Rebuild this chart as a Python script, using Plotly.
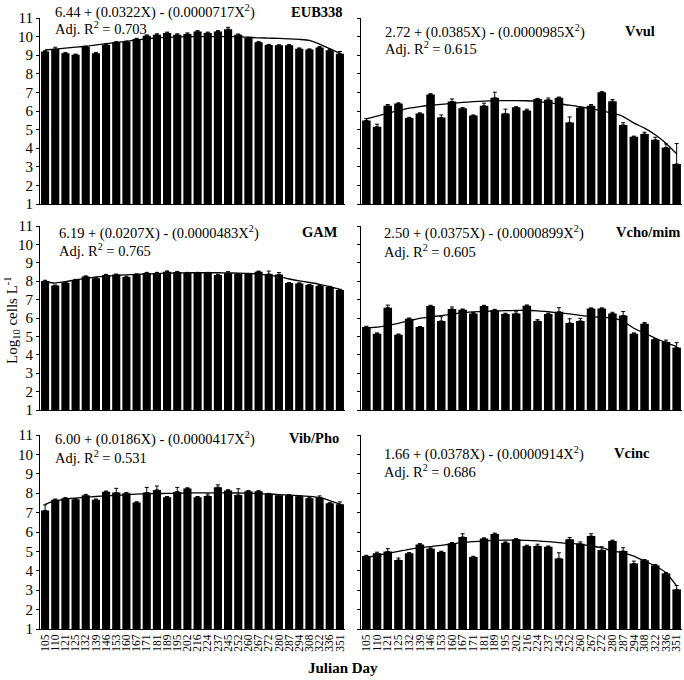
import plotly.graph_objects as go

days = ["105", "110", "121", "125", "132", "139", "146", "153", "160", "167",
        "171", "181", "189", "195", "202", "216", "224", "237", "245", "252",
        "260", "267", "272", "280", "287", "294", "308", "322", "336", "351"]

eub_vals = [9.2, 9.33, 9.1, 9.03, 9.44, 9.1, 9.56, 9.69, 9.72, 9.87, 10.05, 10.1, 10.2, 10.1, 10.14,
            10.28, 10.2, 10.28, 10.4, 10.1, 9.92, 9.69, 9.55, 9.53, 9.53, 9.35, 9.3, 9.42, 9.26, 9.08]
eub_err = [0.04, 0.1, 0.04, 0.03, 0.04, 0.04, 0.04, 0.04, 0.04, 0.04, 0.04, 0.05, 0.04, 0.05, 0.06,
           0.04, 0.04, 0.04, 0.1, 0.04, 0.04, 0.04, 0.03, 0.03, 0.04, 0.04, 0.04, 0.04, 0.05, 0.12]
eub_fit = [9.28, 9.33, 9.38, 9.43, 9.48, 9.55, 9.62, 9.68, 9.74, 9.82, 9.88, 9.93, 9.96, 9.98, 10.0,
           10.0, 10.0, 10.0, 10.0, 9.99, 9.97, 9.93, 9.92, 9.9, 9.88, 9.85, 9.8, 9.6, 9.35, 9.1]

vvul_vals = [5.49, 5.15, 6.28, 6.4, 5.63, 5.87, 6.89, 5.65, 6.51, 6.15, 5.76, 6.28, 6.71, 5.87, 6.2,
             6.03, 6.64, 6.6, 6.71, 5.38, 6.17, 6.28, 7.01, 6.53, 5.25, 4.61, 4.77, 4.45, 4.03, 3.15]
vvul_err = [0.1, 0.14, 0.07, 0.04, 0.03, 0.03, 0.04, 0.14, 0.14, 0.03, 0.03, 0.14, 0.3, 0.23, 0.03,
            0.07, 0.04, 0.1, 0.04, 0.3, 0.05, 0.07, 0.03, 0.09, 0.12, 0.04, 0.09, 0.14, 0.2, 1.1]
vvul_fit = [5.58, 5.72, 5.88, 6.02, 6.15, 6.24, 6.31, 6.36, 6.41, 6.46, 6.5, 6.53, 6.55, 6.56, 6.56,
            6.55, 6.51, 6.45, 6.38, 6.31, 6.22, 6.13, 6.0, 5.88, 5.7, 5.35, 5.08, 4.72, 4.27, 3.7]

gam_vals = [8.01, 7.76, 7.92, 8.07, 8.25, 8.16, 8.34, 8.36, 8.23, 8.37, 8.45, 8.45, 8.52, 8.5, 8.45,
            8.45, 8.45, 8.34, 8.43, 8.39, 8.39, 8.52, 8.39, 8.37, 7.9, 7.88, 7.79, 7.74, 7.68, 7.52]
gam_err = [0.04, 0.03, 0.03, 0.03, 0.04, 0.03, 0.03, 0.03, 0.04, 0.03, 0.03, 0.03, 0.04, 0.03, 0.03,
           0.03, 0.03, 0.04, 0.09, 0.03, 0.03, 0.03, 0.16, 0.1, 0.03, 0.03, 0.03, 0.03, 0.04, 0.04]
gam_fit = [7.97, 7.9, 7.98, 8.07, 8.15, 8.23, 8.28, 8.31, 8.34, 8.37, 8.39, 8.41, 8.43, 8.45, 8.46,
           8.46, 8.46, 8.46, 8.45, 8.44, 8.42, 8.38, 8.32, 8.25, 8.12, 8.02, 7.93, 7.83, 7.7, 7.55]

vcho_vals = [5.51, 5.15, 6.56, 5.09, 5.96, 5.51, 6.65, 5.84, 6.49, 6.45, 6.25, 6.65, 6.43, 6.22, 6.25,
             6.67, 5.84, 6.22, 6.34, 5.73, 5.84, 6.51, 6.51, 6.24, 6.13, 5.15, 5.69, 4.84, 4.7, 4.39]
vcho_err = [0.04, 0.04, 0.14, 0.04, 0.04, 0.03, 0.04, 0.23, 0.11, 0.04, 0.04, 0.04, 0.04, 0.04, 0.09,
            0.04, 0.07, 0.04, 0.22, 0.23, 0.14, 0.04, 0.04, 0.07, 0.22, 0.04, 0.07, 0.04, 0.1, 0.27]
vcho_fit = [5.47, 5.5, 5.6, 5.71, 5.85, 5.98, 6.06, 6.13, 6.21, 6.29, 6.33, 6.36, 6.38, 6.4, 6.41,
            6.42, 6.39, 6.34, 6.28, 6.22, 6.14, 6.07, 6.04, 6.0, 5.82, 5.44, 5.17, 4.9, 4.66, 4.44]

vib_vals = [7.11, 7.66, 7.74, 7.69, 7.9, 7.66, 8.07, 8.03, 8.0, 7.52, 8.03, 8.17, 7.79, 8.08, 8.24,
            7.79, 7.86, 8.31, 8.14, 7.91, 8.1, 8.1, 7.96, 7.9, 7.9, 7.84, 7.74, 7.76, 7.48, 7.43]
vib_err = [0.29, 0.04, 0.03, 0.03, 0.04, 0.04, 0.04, 0.22, 0.04, 0.04, 0.27, 0.2, 0.04, 0.22, 0.04,
           0.04, 0.1, 0.12, 0.04, 0.32, 0.04, 0.03, 0.03, 0.03, 0.03, 0.03, 0.03, 0.1, 0.03, 0.12]
vib_fit = [7.43, 7.6, 7.7, 7.75, 7.79, 7.83, 7.86, 7.89, 7.92, 7.95, 7.97, 7.98, 7.99, 8.0, 8.01,
           8.02, 8.02, 8.02, 8.01, 8.01, 8.0, 7.98, 7.96, 7.93, 7.9, 7.87, 7.84, 7.78, 7.62, 7.43]

vcinc_vals = [4.76, 4.9, 4.99, 4.56, 4.9, 5.36, 5.14, 4.97, 5.42, 5.74, 4.71, 5.66, 5.9, 5.45, 5.62,
              5.28, 5.28, 5.24, 4.64, 5.62, 5.4, 5.79, 5.07, 5.54, 5.02, 4.38, 4.54, 4.28, 3.87, 3.04]
vcinc_err = [0.04, 0.06, 0.15, 0.1, 0.04, 0.04, 0.04, 0.04, 0.04, 0.17, 0.04, 0.04, 0.04, 0.04, 0.04,
             0.04, 0.09, 0.04, 0.29, 0.1, 0.09, 0.12, 0.17, 0.04, 0.17, 0.12, 0.04, 0.04, 0.04, 0.2]
vcinc_fit = [4.68, 4.8, 4.9, 5.0, 5.11, 5.18, 5.25, 5.31, 5.38, 5.45, 5.5, 5.54, 5.57, 5.58, 5.58,
             5.57, 5.54, 5.5, 5.45, 5.41, 5.36, 5.28, 5.19, 5.02, 4.93, 4.76, 4.5, 4.25, 3.9, 3.22]

panel_names = ["EUB338", "Vvul", "GAM", "Vcho/mim", "Vib/Pho", "Vcinc"]
equations = ["6.44 + (0.0322X) - (0.0000717X<sup>2</sup>)",
             "2.72 + (0.0385X) - (0.0000985X<sup>2</sup>)",
             "6.19 + (0.0207X) - (0.0000483X<sup>2</sup>)",
             "2.50 + (0.0375X) - (0.0000899X<sup>2</sup>)",
             "6.00 + (0.0186X) - (0.0000417X<sup>2</sup>)",
             "1.66 + (0.0378X) - (0.0000914X<sup>2</sup>)"]
r2_labels = ["Adj. R<sup>2</sup> = 0.703", "Adj. R<sup>2</sup> = 0.615", "Adj. R<sup>2</sup> = 0.765",
             "Adj. R<sup>2</sup> = 0.605", "Adj. R<sup>2</sup> = 0.531", "Adj. R<sup>2</sup> = 0.686"]

series = [(eub_vals, eub_err, eub_fit), (vvul_vals, vvul_err, vvul_fit),
          (gam_vals, gam_err, gam_fit), (vcho_vals, vcho_err, vcho_fit),
          (vib_vals, vib_err, vib_fit), (vcinc_vals, vcinc_err, vcinc_fit)]

W, H = 684, 680
ML, MR, MT, MB = 40, 2, 18, 51
PW, PH = W - ML - MR, H - MT - MB


def px(x):
    return (x - ML) / PW


def py(y):
    return 1 - (y - MT) / PH


FONT = "Liberation Serif, Times New Roman, serif"

xdoms = [[px(40), px(345)], [px(361), px(682)]]
ydoms = [[py(204), py(18)], [py(410), py(226)], [py(629), py(435)]]

fig = go.Figure()
layout = dict(
    width=W, height=H,
    margin=dict(l=ML, r=MR, t=MT, b=MB),
    paper_bgcolor="white", plot_bgcolor="white",
    showlegend=False, bargap=0.2,
    font=dict(family=FONT, color="black"),
)

for i, (vals, err, fit) in enumerate(series):
    k = i + 1
    xa = "x" if k == 1 else f"x{k}"
    ya = "y" if k == 1 else f"y{k}"
    fig.add_trace(go.Bar(
        x=days, y=vals, xaxis=xa, yaxis=ya,
        marker=dict(color="black", line=dict(width=0)),
        error_y=dict(type="data", array=err, arrayminus=[0] * len(err), symmetric=False,
                     color="black", thickness=1, width=2),
    ))
    fig.add_trace(go.Scatter(
        x=days, y=fit, xaxis=xa, yaxis=ya, mode="lines",
        line=dict(color="black", width=1.3, shape="spline", smoothing=0.6),
    ))
    row, col = i // 2, i % 2
    bottom = row == 2
    layout["xaxis" if k == 1 else f"xaxis{k}"] = dict(
        domain=xdoms[col], anchor=ya, type="category", range=[-0.5, len(days) - 0.5],
        tickmode="linear", dtick=1,
        showline=True, linecolor="black", linewidth=1, ticks="",
        showticklabels=bottom, tickangle=-90,
        tickfont=dict(family=FONT, size=11.5, color="black"),
        showgrid=False, zeroline=False,
    )
    layout["yaxis" if k == 1 else f"yaxis{k}"] = dict(
        domain=ydoms[row], anchor=xa, range=[1, 11], dtick=1, tick0=1,
        showline=True, linecolor="black", linewidth=1,
        ticks="outside", ticklen=3, tickcolor="black",
        showticklabels=(col == 0), tickfont=dict(family=FONT, size=15, color="black"),
        showgrid=False, zeroline=False,
    )

fig.update_layout(**layout)

# annotation pixel positions (left x / center y of equation, adj y, right x of label)
eq_pos = [(53, 12, 28, 345), (383, 31, 48, 657),
          (57, 232, 250, 340), (382, 232, 251, 682),
          (53, 438, 457, 341), (382, 453, 471, 652)]

annots = []
for i, (ex, ey, ay, lx) in enumerate(eq_pos):
    annots.append(dict(x=px(ex), y=py(ey), xref="paper", yref="paper", xanchor="left", yanchor="middle",
                       text=equations[i], showarrow=False, font=dict(family=FONT, size=14.5, color="black")))
    annots.append(dict(x=px(ex), y=py(ay), xref="paper", yref="paper", xanchor="left", yanchor="middle",
                       text=r2_labels[i], showarrow=False, font=dict(family=FONT, size=14.5, color="black")))
    annots.append(dict(x=px(lx), y=py(ey), xref="paper", yref="paper", xanchor="right", yanchor="middle",
                       text="<b>" + panel_names[i] + "</b>", showarrow=False,
                       font=dict(family=FONT, size=14.5, color="black")))

annots.append(dict(x=px(12), y=py(320), xref="paper", yref="paper", xanchor="center", yanchor="middle",
                   text="Log<sub>10</sub> cells L<sup>-1</sup>", textangle=-90, showarrow=False,
                   font=dict(family=FONT, size=15, color="black")))
annots.append(dict(x=px(343), y=py(668), xref="paper", yref="paper", xanchor="center", yanchor="middle",
                   text="<b>Julian Day</b>", showarrow=False,
                   font=dict(family=FONT, size=15, color="black")))
fig.update_layout(annotations=annots)

fig.write_html("out.html", config={"displayModeBar": False},
               post_script="document.body.style.margin='0';document.body.style.padding='0';")
